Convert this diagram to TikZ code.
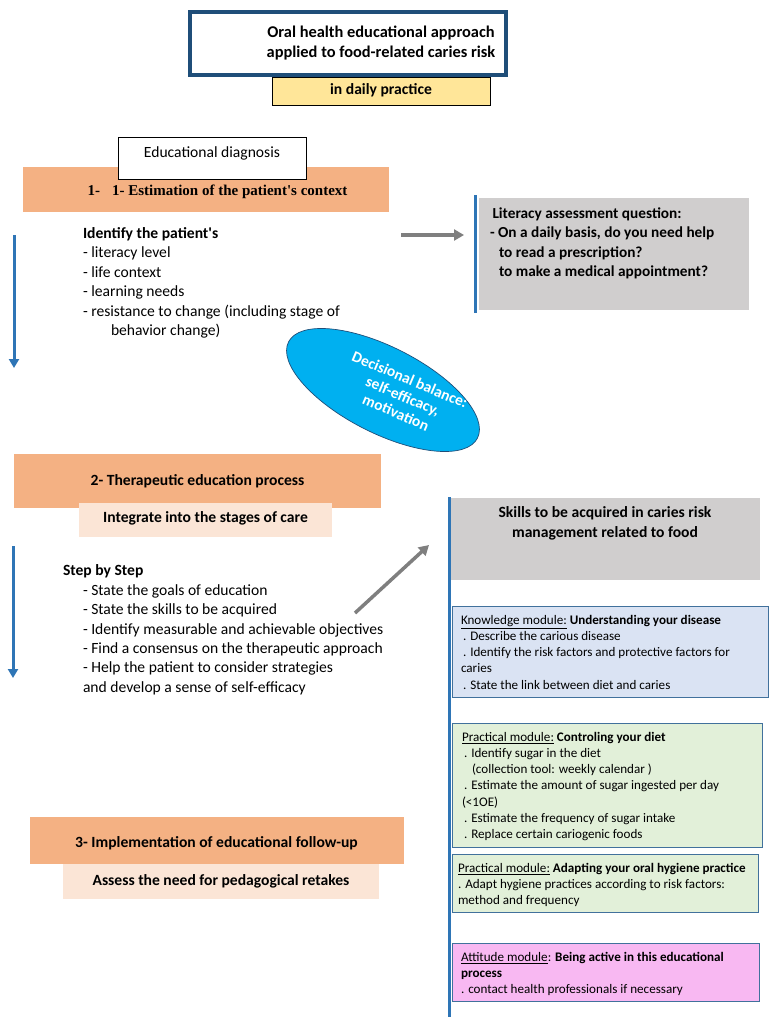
\documentclass[tikz,border=0pt]{standalone}
\usepackage{fontspec}
\setmainfont{Carlito}
\newfontfamily\timesf{Liberation Serif}
\usetikzlibrary{arrows.meta,shapes.geometric}
\definecolor{orangebox}{HTML}{F4B183}
\definecolor{pinkbox}{HTML}{FBE5D6}
\definecolor{graybox}{HTML}{D0CECE}
\definecolor{yellowbox}{HTML}{FFE699}
\definecolor{titleblue}{HTML}{1F4E79}
\definecolor{linkblue}{HTML}{2E75B6}
\definecolor{ellblue}{HTML}{00B0F0}
\definecolor{knowblue}{HTML}{DAE3F3}
\definecolor{pracgreen}{HTML}{E2F0D9}
\definecolor{attpink}{HTML}{F8B8F2}
\definecolor{modborder}{HTML}{41719C}
\definecolor{arrgray}{HTML}{7F7F7F}
\tikzset{
  panel/.style={inner sep=0pt, outer sep=0pt},
  bodytext/.style={inner sep=0pt, outer sep=0pt, align=left, font=\fontsize{15.6}{19.4}\selectfont},
  modtext/.style={inner sep=0pt, outer sep=0pt, align=left, font=\fontsize{13.1}{16.2}\selectfont},
  labeltext/.style={inner sep=0pt, outer sep=0pt, font=\bfseries\fontsize{15.6}{18}\selectfont},
  modbox/.style={panel, draw=modborder, line width=0.9pt},
  bluearrow/.style={draw=linkblue, line width=3pt, -{Triangle[length=9pt,width=10pt]}},
  grayarrow/.style={draw=arrgray, line width=3.5pt, -{Triangle[length=10pt,width=11pt]}},
  blueline/.style={draw=linkblue, line width=3pt},
}
\begin{document}
\begin{tikzpicture}[x=1pt,y=-1pt]
\useasboundingbox (0,0) rectangle (776,1028);
\fill[white] (0,0) rectangle (776,1028);

% title
\node[panel, fill=yellowbox, draw=black, line width=0.8pt, minimum width=218pt, minimum height=28pt] (daily) at (381,91) {};
\node[labeltext] (dailytxt) at (381,90.5) {in daily practice};
\node[panel, fill=white, draw=titleblue, line width=4pt, minimum width=316pt, minimum height=63pt] (title) at (348,43.5) {};
\node[inner sep=0pt, align=center, font=\bfseries\fontsize{16.4}{20}\selectfont] (titletxt) at (381,43.5)
      {Oral health educational approach\\applied to food-related caries risk};

% section 1
\node[panel, fill=orangebox, minimum width=366pt, minimum height=45pt] (orange1) at (206,189.5) {};
\node[panel, fill=white, draw=black, line width=0.6pt, minimum width=188pt, minimum height=42pt] (diag) at (212,158) {};
\node[inner sep=0pt, font=\fontsize{15.6}{18}\selectfont] (diagtxt) at (212,153.5) {Educational diagnosis};
\node[inner sep=0pt, font=\timesf\bfseries\fontsize{15}{17}\selectfont] (est) at (217.5,191.5) {1-\hspace{12pt}1- Estimation of the patient\textquotesingle s context};

\node[bodytext, anchor=north west] (identify) at (83,227.5)
 {\textbf{Identify the patient\textquotesingle s}\\
  - literacy level\\
  - life context\\
  - learning needs\\
  - resistance to change (including stage of\\
  \hspace{28pt}behavior change)};

\coordinate (a1s) at (14,235);
\coordinate (a1e) at (14,368);
\draw[bluearrow] (a1s) -- (a1e);

\coordinate (g1s) at (401,235);
\coordinate (g1e) at (464,235);
\draw[grayarrow] (g1s) -- (g1e);

\node[panel, fill=graybox, minimum width=270pt, minimum height=112pt] (lit) at (614,254) {};
\coordinate (l1t) at (475,195);
\coordinate (l1b) at (475,313);
\draw[blueline] (l1t) -- (l1b);
\node[bodytext, font=\bfseries\fontsize{15.3}{19.4}\selectfont, anchor=north west] (littxt) at (490,207.5)
 {\hspace{2.5pt}Literacy assessment question:\\
  - On a daily basis, do you need help\\
  \hspace{9pt}to read a prescription?\\
  \hspace{9pt}to make a medical appointment?};

% ellipse
\node[ellipse, draw=titleblue, line width=0.7pt, fill=ellblue, minimum width=212pt, minimum height=86pt, rotate=-27, inner sep=0pt] (ell) at (383,390) {};
\node[rotate=-23, align=center, text=white, inner sep=0pt, font=\bfseries\fontsize{15.5}{18}\selectfont] (elltxt) at (403,396)
 {Decisional balance:\\self-efficacy,\\motivation};

% section 2
\node[panel, fill=orangebox, minimum width=367pt, minimum height=54pt] (orange2) at (197.5,481) {};
\node[labeltext] (o2txt) at (197.5,481.5) {2- Therapeutic education process};
\node[panel, fill=pinkbox, minimum width=253pt, minimum height=34pt] (pink2) at (205.5,520) {};
\node[labeltext] (p2txt) at (205.5,518.5) {Integrate into the stages of care};

\coordinate (a2s) at (13,546);
\coordinate (a2e) at (13,678);
\draw[bluearrow] (a2s) -- (a2e);

\node[bodytext, anchor=north west] (steps) at (63,565)
 {\textbf{Step by Step}\\
  \hspace{20pt}- State the goals of education\\
  \hspace{20pt}- State the skills to be acquired\\
  \hspace{20pt}- Identify measurable and achievable objectives\\
  \hspace{20pt}- Find a consensus on the therapeutic approach\\
  \hspace{20pt}- Help the patient to consider strategies\\
  \hspace{20pt}and develop a sense of self-efficacy};

\coordinate (g2s) at (355,613);
\coordinate (g2e) at (429,545);
\draw[grayarrow] (g2s) -- (g2e);

% skills column
\node[panel, fill=graybox, minimum width=310pt, minimum height=82pt] (skills) at (605,539) {};
\coordinate (l2t) at (449,497);
\coordinate (l2b) at (449,1017);
\draw[blueline] (l2t) -- (l2b);
\node[align=center, inner sep=0pt, font=\bfseries\fontsize{15.6}{19.4}\selectfont] (skilltxt) at (605,523.5)
 {Skills to be acquired in caries risk\\management related to food};

\node[modbox, fill=knowblue, minimum width=316pt, minimum height=91pt] (know) at (610,651.5) {};
\node[modtext, anchor=north west] (knowtxt) at (461,615)
 {\underline{Knowledge module:} \textbf{Understanding your disease}\\
  \hspace{2pt}. Describe the carious disease\\
  \hspace{2pt}. Identify the risk factors and protective factors for\\
  caries\\
  \hspace{2pt}. State the link between diet and caries};

\node[modbox, fill=pracgreen, minimum width=310pt, minimum height=124pt] (prac1) at (607,785) {};
\node[modtext, anchor=north west] (prac1txt) at (462,732)
 {\underline{Practical module:} \textbf{Controling your diet}\\
  \hspace{2pt}. Identify sugar in the diet\\
  \hspace{10pt}(collection tool: weekly calendar )\\
  \hspace{2pt}. Estimate the amount of sugar ingested per day\\
  (<1OE)\\
  \hspace{2pt}. Estimate the frequency of sugar intake\\
  \hspace{2pt}. Replace certain cariogenic foods};

\node[modbox, fill=pracgreen, minimum width=306pt, minimum height=58pt] (prac2) at (605,883) {};
\node[modtext, anchor=north west] (prac2txt) at (458,863)
 {\underline{Practical module:} \textbf{Adapting your oral hygiene practice}\\
  . Adapt hygiene practices according to risk factors:\\
  method and frequency};

\node[modbox, fill=attpink, minimum width=307pt, minimum height=58pt] (att) at (605.5,972) {};
\node[modtext, anchor=north west] (atttxt) at (461,952)
 {\underline{Attitude module}: \textbf{Being active in this educational}\\
  \textbf{process}\\
  . contact health professionals if necessary};

% section 3
\node[panel, fill=orangebox, minimum width=374pt, minimum height=47pt] (orange3) at (217,840.5) {};
\node[labeltext] (o3txt) at (216.5,843) {3- Implementation of educational follow-up};
\node[panel, fill=pinkbox, minimum width=316pt, minimum height=35pt] (pink3) at (221,881.5) {};
\node[labeltext] (p3txt) at (221,881) {Assess the need for pedagogical retakes};
\end{tikzpicture}
\end{document}
